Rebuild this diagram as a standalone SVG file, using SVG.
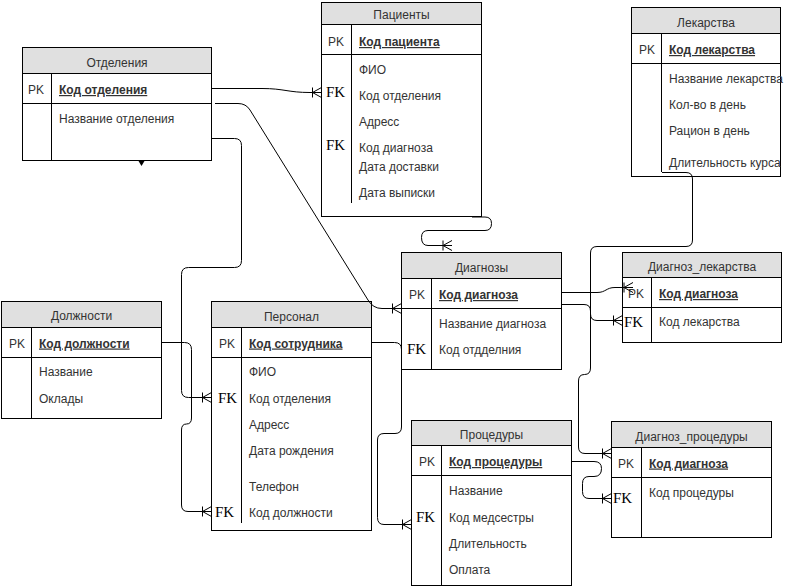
<svg xmlns="http://www.w3.org/2000/svg" width="793" height="587" viewBox="0 0 793 587">
<style>
.box{fill:#fff;stroke:#000;stroke-width:1}
.hdr{fill:#e0e0e0;stroke:#000;stroke-width:1}
.ln{stroke:#000;stroke-width:1;fill:none}
text{font-family:"Liberation Sans",Arial,sans-serif;font-size:12px;fill:#333}
.t{text-anchor:middle}
.pk{font-weight:bold;text-decoration:underline}
.fk{font-family:"Liberation Serif","Times New Roman",serif;font-size:15px;fill:#000}
.c{stroke:#000;stroke-width:1;fill:none;marker-end:url(#many)}
</style>
<defs>
<marker id="many" markerUnits="userSpaceOnUse" viewBox="-12 -7 14 14" refX="0" refY="0" markerWidth="14" markerHeight="14" orient="auto">
<path d="M-9,0 L0,-5 M-9,0 L0,5 M-9,-5 L-9,5" fill="none" stroke="#000" stroke-width="1"/>
</marker>
</defs>
<rect width="793" height="587" fill="#fff"/>

<g id="otdeleniya">
<rect class="box" x="22.5" y="47.5" width="189" height="113"/>
<rect class="hdr" x="22.5" y="47.5" width="189" height="26"/>
<path class="ln" d="M22.5 103.5H211.5M51.5 73.5V160.5"/>
<text class="t" x="117" y="67">Отделения</text>
<text x="28" y="94">PK</text>
<text class="pk" x="59" y="94">Код отделения</text>
<text x="59" y="123">Название отделения</text>
<polygon points="138.5,161 144.5,161 141.5,166" fill="#000"/>
</g>

<g id="pacienty">
<rect class="box" x="321.5" y="2.5" width="160" height="214"/>
<rect class="hdr" x="321.5" y="2.5" width="160" height="22"/>
<path class="ln" d="M321.5 54.5H481.5M351.5 24.5V203"/>
<text class="t" x="401.5" y="19">Пациенты</text>
<text x="328" y="46">PK</text>
<text class="pk" x="359" y="46">Код пациента</text>
<text x="359" y="74">ФИО</text>
<text x="359" y="100">Код отделения</text>
<text x="359" y="126">Адресс</text>
<text x="359" y="152">Код диагноза</text>
<text x="359" y="171">Дата доставки</text>
<text x="359" y="197">Дата выписки</text>
<text class="fk" x="326" y="97">FK</text>
<text class="fk" x="326" y="150">FK</text>
</g>

<g id="lekarstva">
<rect class="box" x="631.5" y="7.5" width="149" height="169"/>
<rect class="hdr" x="631.5" y="7.5" width="149" height="26"/>
<path class="ln" d="M631.5 63.5H780.5M661.5 33.5V172"/>
<text class="t" x="706" y="27">Лекарства</text>
<text x="639" y="54">PK</text>
<text class="pk" x="669" y="54">Код лекарства</text>
<text x="669" y="83">Название лекарства</text>
<text x="669" y="109">Кол-во в день</text>
<text x="669" y="135">Рацион в день</text>
<text x="669" y="167">Длительность курса</text>
</g>

<g id="diagnozy">
<rect class="box" x="401.5" y="252.5" width="160" height="117"/>
<rect class="hdr" x="401.5" y="252.5" width="160" height="26"/>
<path class="ln" d="M401.5 308.5H561.5M431.5 278.5V369.5"/>
<text class="t" x="481.5" y="272">Диагнозы</text>
<text x="409" y="299">PK</text>
<text class="pk" x="439" y="299">Код диагноза</text>
<text x="439" y="327.5">Название диагноза</text>
<text x="439" y="353.5">Код отдделния</text>
<text class="fk" x="407" y="354">FK</text>
</g>

<g id="diagnoz_lekarstva">
<rect class="box" x="622.5" y="252.5" width="159" height="90"/>
<rect class="hdr" x="622.5" y="252.5" width="159" height="25"/>
<path class="ln" d="M622.5 307.5H781.5M651.5 277.5V342.5"/>
<text class="t" x="702" y="271">Диагноз_лекарства</text>
<text x="628" y="298">PK</text>
<text class="pk" x="659" y="298">Код диагноза</text>
<text x="659" y="326">Код лекарства</text>
<text class="fk" x="624" y="327">FK</text>
</g>

<g id="dolzhnosti">
<rect class="box" x="1.5" y="301.5" width="160" height="117"/>
<rect class="hdr" x="1.5" y="301.5" width="160" height="26"/>
<path class="ln" d="M1.5 357.5H161.5M31.5 327.5V418.5"/>
<text class="t" x="81.5" y="320">Должности</text>
<text x="9" y="347.5">PK</text>
<text class="pk" x="39" y="347.5">Код должности</text>
<text x="39" y="376">Название</text>
<text x="39" y="402.5">Оклады</text>
</g>

<g id="personal">
<rect class="box" x="211.5" y="301.5" width="160" height="229"/>
<rect class="hdr" x="211.5" y="301.5" width="160" height="26"/>
<path class="ln" d="M211.5 357.5H371.5M241.5 327.5V523"/>
<text class="t" x="291.5" y="321">Персонал</text>
<text x="219" y="347.5">PK</text>
<text class="pk" x="249" y="347.5">Код сотрудника</text>
<text x="249" y="376">ФИО</text>
<text x="249" y="402.5">Код отделения</text>
<text x="249" y="429">Адресс</text>
<text x="249" y="455">Дата рождения</text>
<text x="249" y="491">Телефон</text>
<text x="249" y="517">Код должности</text>
<text class="fk" x="218" y="403">FK</text>
<text class="fk" x="215" y="517">FK</text>
</g>

<g id="procedury">
<rect class="box" x="411.5" y="420.5" width="160" height="165"/>
<rect class="hdr" x="411.5" y="420.5" width="160" height="25"/>
<path class="ln" d="M411.5 475.5H571.5M441.5 445.5V585.5"/>
<text class="t" x="491.5" y="439">Процедуры</text>
<text x="419" y="466">PK</text>
<text class="pk" x="449" y="466">Код процедуры</text>
<text x="449" y="495">Название</text>
<text x="449" y="521.5">Код медсестры</text>
<text x="449" y="548">Длительность</text>
<text x="449" y="573.5">Оплата</text>
<text class="fk" x="416" y="522">FK</text>
</g>

<g id="diagnoz_procedury">
<rect class="box" x="611.5" y="421.5" width="160" height="116"/>
<rect class="hdr" x="611.5" y="421.5" width="160" height="26"/>
<path class="ln" d="M611.5 477.5H771.5M641.5 447.5V537.5"/>
<text class="t" x="691.5" y="441">Диагноз_процедуры</text>
<text x="618" y="467.5">PK</text>
<text class="pk" x="649" y="467.5">Код диагноза</text>
<text x="649" y="497">Код процедуры</text>
<text class="fk" x="613" y="503">FK</text>
</g>

<g id="connectors">
<path class="c" d="M211.5 88.5L262 88.5C284 88.5 288 92.5 310 92.5L321.5 92.5"/>
<path class="c" d="M215 103.5L238 103.5Q246 103.5 250 110L368 300Q373 308.5 382 308.5L401.5 308.5"/>
<path class="c" d="M211.5 138.5L234.5 138.5Q241.5 138.5 241.5 145.5L241.5 260.5Q241.5 267.5 234.5 267.5L188.5 267.5Q181.5 267.5 181.5 274.5L181.5 390.5Q181.5 397.5 188.5 397.5L211.5 397.5"/>
<path class="c" d="M161.5 342.5L184.5 342.5Q191.5 342.5 191.5 349.5L191.5 418Q191.5 424 186.5 424Q181.5 424 181.5 430L181.5 505Q181.5 511.5 188 511.5L211.5 511.5"/>
<path class="c" d="M472 217L485 217Q491.5 217 491.5 223.5Q491.5 230.5 485 230.5L428 230.5Q421.5 230.5 421.5 237.5Q421.5 245.5 428 245.5L452 245.5"/>
<path class="c" d="M561.5 292.5L597 292.5C606 292.5 606 287.5 615 287.5L633 287.5"/>
<path class="c" d="M561.5 304.5L584 304.5Q590.5 304.5 590.5 311L590.5 314Q590.5 320.5 597 320.5L622.5 320.5"/>
<path class="c" d="M662 172.5L686 172.5Q692.5 172.5 692.5 179L692.5 240Q692.5 246.5 686 246.5L597 246.5Q590.5 246.5 590.5 253L590.5 368Q590.5 374.5 584.5 374.5Q578.5 374.5 578.5 381L578.5 447Q578.5 453.5 585 453.5L611.5 453.5"/>
<path class="c" d="M571.5 461.5L594 461.5Q601.5 461.5 601.5 468.5Q601.5 476.5 594 476.5L589 476.5Q582.5 476.5 582.5 483.5L582.5 491.5Q582.5 498.5 589 498.5L611.5 498.5"/>
<path class="c" d="M371.5 342.5L394.5 342.5Q401.5 342.5 401.5 349.5L401.5 427Q401.5 433.5 395 433.5L384 433.5Q377.5 433.5 377.5 440L377.5 517.5Q377.5 524.5 384 524.5L411.5 524.5"/>
</g>
</svg>
